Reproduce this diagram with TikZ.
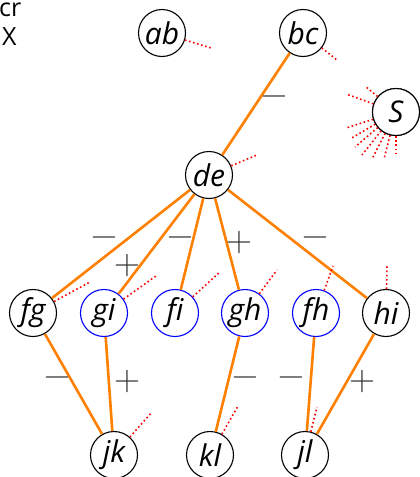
\documentclass[tikz,border=0pt]{standalone}
\usepackage{fontspec}
\setsansfont{Open Sans}
\begin{document}
\begin{tikzpicture}[x=1pt,y=-1pt,
  vtx/.style={circle,draw=black,line width=1.1pt,minimum size=47pt,inner sep=0pt,font=\fontsize{30}{32}\selectfont\sffamily\itshape},
  bvtx/.style={vtx,draw=blue},
  edge/.style={draw=orange,line width=2.6pt},
  sgn/.style={font=\fontsize{36}{40}\selectfont\rmfamily,text=black!80,inner sep=0pt},
  dot/.style={draw=red,line width=1.6pt,dash pattern=on 1.6pt off 2.6pt},
  txt/.style={font=\fontsize{25}{30}\selectfont\sffamily,anchor=base west,inner sep=0pt}]
\useasboundingbox (0,0) rectangle (420,477);
\node[txt] (cr) at (-1,16) {cr};
\node[txt] (X) at (2,45) {X};
\node[vtx] (ab) at (162,33) {ab};
\node[vtx] (bc) at (303,33) {bc};
\node[vtx] (S) at (396,112) {S};
\node[vtx] (de) at (209,175) {de};
\node[vtx] (fg) at (33,313) {fg};
\node[bvtx] (gi) at (104,313) {gi};
\node[bvtx] (fi) at (175,313) {f\kern0pt i};
\node[bvtx] (gh) at (245,313) {gh};
\node[bvtx] (fh) at (316,313) {fh};
\node[vtx] (hi) at (386,313) {hi};
\node[vtx] (jk) at (114,455) {jk};
\node[vtx] (kl) at (210,455) {kl};
\node[vtx] (jl) at (305,455) {jl};
% edges
\draw[edge] (bc) -- (de);
\draw[edge] (de) -- (fg);
\draw[edge] (de) -- (gi);
\draw[edge] (de) -- (fi);
\draw[edge] (de) -- (gh);
\draw[edge] (de) -- (hi);
\draw[edge] (fg) -- (jk);
\draw[edge] (gi) -- (jk);
\draw[edge] (gh) -- (kl);
\draw[edge] (fh) -- (jl);
\draw[edge] (hi) -- (jl);
% signs
\node[sgn] (s1) at (274,101) {−};
\node[sgn] (s2) at (104,242) {−};
\node[sgn] (s3) at (127,266) {+};
\node[sgn] (s4) at (180,242) {−};
\node[sgn] (s5) at (239,243) {+};
\node[sgn] (s6) at (315,242) {−};
\node[sgn] (s7) at (57,382) {−};
\node[sgn] (s8) at (127,382) {+};
\node[sgn] (s9) at (245,382) {−};
\node[sgn] (s10) at (291,382) {−};
\node[sgn] (s11) at (362,382) {+};
% dotted stubs
\coordinate (pab) at (211,48);
\coordinate (pbc) at (337,60);
\coordinate (pde) at (257,155);
\coordinate (pfg) at (90,282);
\coordinate (pgi) at (156,276);
\coordinate (pfi) at (220,272);
\coordinate (pgh) at (277,270);
\coordinate (pfh) at (333,266);
\coordinate (phi) at (387,266);
\coordinate (pjk) at (152,412);
\coordinate (pkl) at (238,406);
\coordinate (pjl) at (317,407);
\draw[dot] (ab) -- (pab);
\draw[dot] (bc) -- (pbc);
\draw[dot] (de) -- (pde);
\draw[dot] (fg) -- (pfg);
\draw[dot] (gi) -- (pgi);
\draw[dot] (fi) -- (pfi);
\draw[dot] (gh) -- (pgh);
\draw[dot] (fh) -- (pfh);
\draw[dot] (hi) -- (phi);
\draw[dot] (jk) -- (pjk);
\draw[dot] (kl) -- (pkl);
\draw[dot] (jl) -- (pjl);
% S fan
\coordinate (q1) at (365,86);
\coordinate (q2) at (346,94);
\coordinate (q3) at (346,128);
\coordinate (q4) at (350,139);
\coordinate (q5) at (355,147);
\coordinate (q6) at (362,155);
\coordinate (q7) at (372,159);
\coordinate (q8) at (384,159);
\coordinate (q9) at (396,156);
\foreach \q in {q1,q2,q3,q4,q5,q6,q7,q8,q9}{\draw[dot] (S) -- (\q);}
\node[vtx,fill=white] at (S) {S};
\end{tikzpicture}
\end{document}
